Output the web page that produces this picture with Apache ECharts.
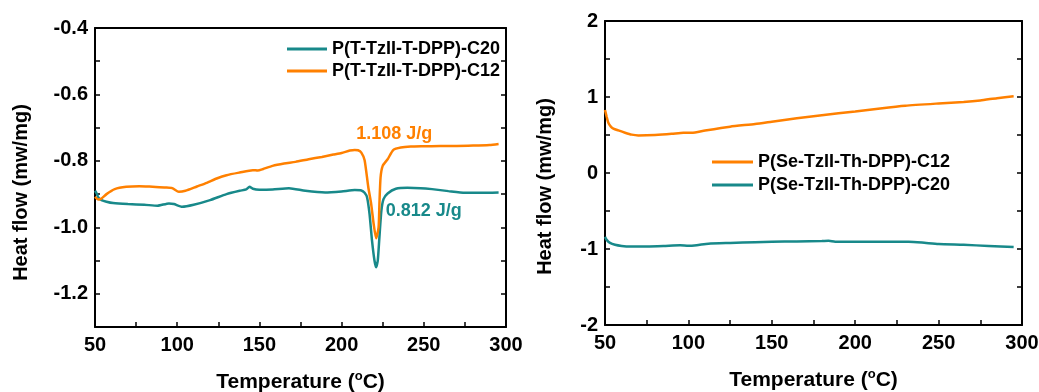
<!DOCTYPE html>
<html>
<head>
<meta charset="utf-8">
<script src="https://cdn.jsdelivr.net/npm/echarts@6/dist/echarts.min.js"></script>
<style>
html,body{margin:0;padding:0;background:#fff;}
#chart{width:1039px;height:392px;}
</style>
</head>
<body>
<div id="chart"></div>
<script>
// ---------- Data ----------
const leftNames = ['P(T-TzII-T-DPP)-C20', 'P(T-TzII-T-DPP)-C12'];
const rightNames = ['P(Se-TzII-Th-DPP)-C12', 'P(Se-TzII-Th-DPP)-C20'];

const tLeftC20 = [50,51,52,54,57,61,70,80,88,95,98,103,110,120,130,138,142,144,146,150,158,168,178,190,200,208,212,214,215.5,217,218.5,220,221,222,223,224.2,225.5,228,233,240,248,255,265,275,285,295.5];
const hfLeftC20 = [-0.89,-0.898,-0.91,-0.918,-0.923,-0.927,-0.93,-0.932,-0.935,-0.928,-0.93,-0.938,-0.932,-0.918,-0.900,-0.89,-0.886,-0.878,-0.884,-0.887,-0.886,-0.882,-0.89,-0.895,-0.892,-0.888,-0.889,-0.896,-0.91,-0.96,-1.04,-1.10,-1.12,-1.10,-1.03,-0.95,-0.915,-0.898,-0.884,-0.881,-0.882,-0.885,-0.891,-0.896,-0.896,-0.895];

const tLeftC12 = [50,52,54,57,62,69,77,85,93,97,101,105,112,118,124,130,138,146,149,152,158,165,172,180,188,195,200,205,208,210,212,214,216.2,218,219.5,221,222.5,223,223.7,225,228,231.5,236,242,250,260,270,280,290,295.5];
const hfLeftC12 = [-0.908,-0.916,-0.913,-0.90,-0.885,-0.878,-0.876,-0.878,-0.88,-0.882,-0.893,-0.89,-0.877,-0.866,-0.853,-0.843,-0.835,-0.828,-0.829,-0.825,-0.815,-0.808,-0.803,-0.795,-0.788,-0.781,-0.776,-0.769,-0.767,-0.768,-0.775,-0.798,-0.878,-0.93,-0.99,-1.033,-1.0,-0.93,-0.85,-0.815,-0.795,-0.767,-0.76,-0.757,-0.756,-0.755,-0.755,-0.754,-0.752,-0.749];

const tRightC12 = [50,51,52,53.5,55,58,62,66,70,80,90,97,102,110,125,140,150,165,180,200,215,230,250,265,275,285,295];
const hfRightC12 = [0.83,0.74,0.66,0.61,0.585,0.56,0.53,0.505,0.495,0.50,0.515,0.53,0.53,0.56,0.61,0.645,0.675,0.72,0.76,0.81,0.85,0.885,0.915,0.935,0.955,0.985,1.01];

const tRightC20 = [50,51,53,56,60,65,75,85,95,100,105,112,125,140,150,165,180,184,188,200,215,232,240,250,265,280,295];
const hfRightC20 = [-0.84,-0.88,-0.92,-0.945,-0.96,-0.968,-0.968,-0.962,-0.952,-0.958,-0.95,-0.93,-0.92,-0.91,-0.905,-0.9,-0.895,-0.893,-0.905,-0.905,-0.905,-0.905,-0.915,-0.935,-0.945,-0.96,-0.975];

const annTexts = ['1.108 J/g', '0.812 J/g'];
const annX = [232, 250];
const annY = [-0.72, -0.951];
const annColors = ['orange', 'teal'];

// ---------- Styles ----------
const TEAL = '#18898a';
const ORANGE = '#ff8000';
const FONT = '"Liberation Sans", Arial, sans-serif';

function zip(a, b) { return a.map((v, i) => [v, b[i]]); }

const axisLineStyle = {show: true, onZero: false, lineStyle: {color: '#000', width: 2}};
const labelStyle = {color: '#000', fontFamily: FONT, fontWeight: 'bold', fontSize: 20};

function xAxes(gridIndex) {
  return [
    {
      type: 'value', gridIndex, min: 50, max: 300, interval: 25, position: 'bottom',
      axisLine: axisLineStyle,
      axisTick: {show: true, inside: true, length: 5, lineStyle: {color: '#000', width: 1.5}},
      splitLine: {show: false},
      axisLabel: Object.assign({margin: 8, formatter: v => (Math.round(v) % 50 === 0 ? String(v) : '')}, labelStyle),
      name: 'Temperature ({sup|o}C)', nameLocation: 'middle', nameGap: 43,
      nameTextStyle: {color: '#000', fontFamily: FONT, fontWeight: 'bold', fontSize: 21,
        rich: {sup: {fontSize: 13, fontFamily: FONT, fontWeight: 'bold', color: '#000', verticalAlign: 'top', padding: [0, 0, 12, 0]}}}
    },
    {
      type: 'value', gridIndex, min: 50, max: 300, interval: 25, position: 'top',
      axisLine: axisLineStyle, axisTick: {show: false}, axisLabel: {show: false}, splitLine: {show: false}
    }
  ];
}

function yAxes(gridIndex, min, max, interval, fmt, nameGap, shift) {
  return [
    {
      type: 'value', gridIndex, min, max, interval, position: 'left',
      axisLine: axisLineStyle,
      axisTick: {show: true, inside: true, length: 5, lineStyle: {color: '#000', width: 1.5}},
      splitLine: {show: false},
      axisLabel: Object.assign({margin: 7, formatter: fmt}, labelStyle),
      name: 'Heat flow (mw/mg)', nameLocation: 'middle', nameGap: nameGap, nameRotate: 90,
      nameTextStyle: {color: '#000', fontFamily: FONT, fontWeight: 'bold', fontSize: 20, padding: [0, shift, 0, 0]}
    },
    {
      type: 'value', gridIndex, min, max, interval, position: 'right',
      axisLine: axisLineStyle,
      axisTick: {show: true, inside: true, length: 5, lineStyle: {color: '#000', width: 1.5}},
      axisLabel: {show: false}, splitLine: {show: false}
    }
  ];
}

const leftFmt = v => (Math.abs(Math.round(v * 10)) % 2 === 0 ? v.toFixed(1) : '');
const rightFmt = v => (Math.abs(v - Math.round(v)) < 1e-6 ? String(Math.round(v)) : '');

function lineSeries(name, xi, yi, data, color) {
  return {
    name, type: 'line', xAxisIndex: xi, yAxisIndex: yi, data,
    showSymbol: false, symbol: 'none', smooth: 0.2,
    lineStyle: {color, width: 2.5}, itemStyle: {color}, animation: false, z: 3
  };
}

const colorOf = {teal: TEAL, orange: ORANGE};

const option = {
  backgroundColor: '#fff',
  animation: false,
  grid: [
    {left: 95, top: 28, width: 411, height: 299, containLabel: false, outerBoundsMode: 'none'},
    {left: 605, top: 21, width: 417, height: 304, containLabel: false, outerBoundsMode: 'none'}
  ],
  xAxis: [...xAxes(0), ...xAxes(1)],
  yAxis: [...yAxes(0, -1.3, -0.4, 0.1, leftFmt, 64, 30), ...yAxes(1, -2, 2, 0.5, rightFmt, 50, 27)],
  legend: [
    {
      data: leftNames, orient: 'vertical', left: 287, top: 40, itemGap: 4, padding: 0,
      icon: 'rect', itemWidth: 40, itemHeight: 3,
      textStyle: {color: '#000', fontFamily: FONT, fontWeight: 'bold', fontSize: 18}
    },
    {
      data: rightNames, orient: 'vertical', left: 712, top: 153, itemGap: 5, padding: 0,
      icon: 'rect', itemWidth: 41, itemHeight: 3,
      textStyle: {color: '#000', fontFamily: FONT, fontWeight: 'bold', fontSize: 18}
    }
  ],
  series: [
    lineSeries(leftNames[0], 0, 0, zip(tLeftC20, hfLeftC20), TEAL),
    lineSeries(leftNames[1], 0, 0, zip(tLeftC12, hfLeftC12), ORANGE),
    lineSeries(rightNames[0], 2, 2, zip(tRightC12, hfRightC12), ORANGE),
    lineSeries(rightNames[1], 2, 2, zip(tRightC20, hfRightC20), TEAL),
    {
      type: 'scatter', xAxisIndex: 0, yAxisIndex: 0, symbolSize: 1, silent: true,
      itemStyle: {opacity: 0},
      data: annTexts.map((t, i) => ({value: [annX[i], annY[i]], label: {
        show: true, position: 'inside', formatter: t, opacity: 1,
        color: colorOf[annColors[i]], textBorderWidth: 0, fontFamily: FONT, fontWeight: 'bold', fontSize: 18
      }})),
      z: 5
    }
  ]
};

const chart = echarts.init(document.getElementById('chart'), null, {renderer: 'canvas'});
chart.setOption(option);
</script>
</body>
</html>
